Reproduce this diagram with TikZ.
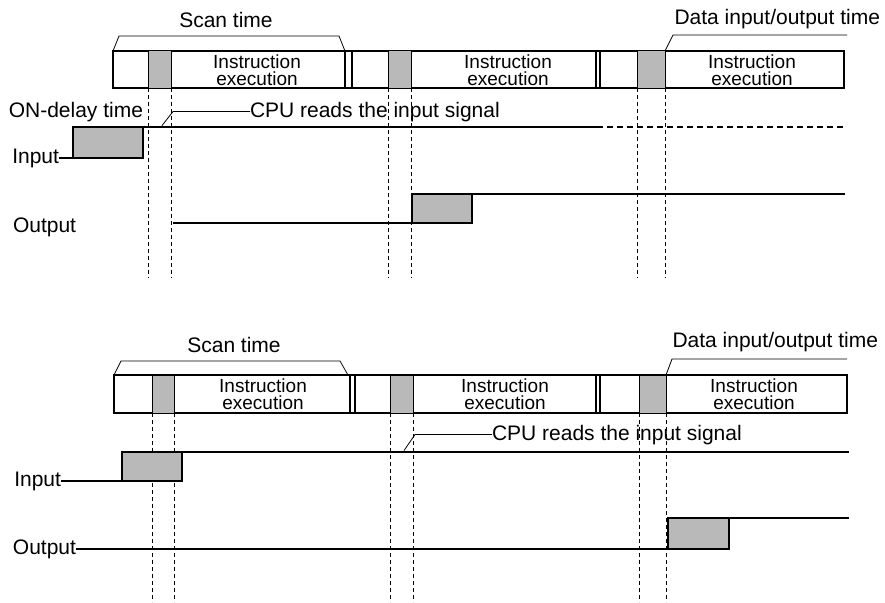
\documentclass[tikz,border=0pt]{standalone}
\usepackage{fontspec}
\setmainfont{Liberation Sans}
\usetikzlibrary{positioning}

\begin{document}
\begin{tikzpicture}[
    x=1pt, y=-1pt,
    lbl/.style={font=\fontsize{21}{21}\selectfont, inner sep=0pt, outer sep=0pt},
    instr/.style={font=\fontsize{19}{17.5}\selectfont, align=center, inner sep=0pt},
    slot/.style={fill=gray!55, draw=black, line width=1pt},
    bar/.style={draw=black, line width=1.1pt},
    sig/.style={line width=1.4pt},
    pulse/.style={fill=gray!55, draw=black, line width=1.8pt},
    guide/.style={line width=0.8pt, dash pattern=on 4pt off 3pt},
    lead/.style={line width=0.8pt},
]
\useasboundingbox (0,0) rectangle (885,602);

% ---------------- Upper chart ----------------
% Scan time bracket
\node[lbl, anchor=base] (scanA) at (226,28) {Scan time};
\draw[lead] (113,51) -- (119,36) -- (339,36) -- (345,51);

% Data input/output time
\node[lbl, anchor=base east] (dataA) at (880,25) {Data input/output time};
\draw[lead] (847,35) -- (673,35) -- (665,51);

% Scan bar
\draw[bar] (113,51) rectangle (844,88);
\draw[slot] (148,51) rectangle (171,88);
\draw[slot] (388,51) rectangle (411,88);
\draw[slot] (637,51) rectangle (665,88);
\draw[bar] (345,51) -- (345,88) (352,51) -- (352,88);
\draw[bar] (596,51) -- (596,88) (600,51) -- (600,88);
\node[instr] (exA1) at (257,70) {Instruction\\execution};
\node[instr] (exA2) at (508,70) {Instruction\\execution};
\node[instr] (exA3) at (752,70) {Instruction\\execution};

% Guide lines
\foreach \gx in {148,171,388,411,637,665}
  \draw[guide] (\gx,88) -- (\gx,278);

% Labels
\node[lbl, anchor=base east] (delayA) at (143,117) {ON-delay time};
\node[lbl, anchor=base west] (cpuA) at (250,117) {CPU reads the input signal};
\draw[lead] (cpuA.west) -- ++(-77,0) -- ++(-11,14);

% Input
\node[lbl, anchor=east] (inA) at (59,158) {Input};
\draw[pulse] (73,127) rectangle (143,158);
\draw[sig] (inA.east) -- (73,158) -- (73,127) -- (597,127);
\draw[sig, dash pattern=on 6pt off 4pt] (597,127) -- (845,127);

% Output
\node[lbl, anchor=base west] (outA) at (13,232) {Output};
\draw[pulse] (412,194) rectangle (472,223);
\draw[sig] (173,223) -- (412,223) (472,194) -- (845,194);

% ---------------- Lower chart ----------------
% Scan time bracket
\node[lbl, anchor=base] (scanB) at (234,352) {Scan time};
\draw[lead] (114,375) -- (121,361) -- (340,361) -- (348,375);

% Data input/output time
\node[lbl, anchor=base east] (dataB) at (878,347) {Data input/output time};
\draw[lead] (847,359) -- (672,359) -- (666,375);

% Scan bar
\draw[bar] (114,375) rectangle (847,413);
\draw[slot] (152,375) rectangle (174,413);
\draw[slot] (390,375) rectangle (413,413);
\draw[slot] (639,375) rectangle (666,413);
\draw[bar] (350,375) -- (350,413) (355,375) -- (355,413);
\draw[bar] (596,375) -- (596,413) (600,375) -- (600,413);
\node[instr] (exB1) at (263,394) {Instruction\\execution};
\node[instr] (exB2) at (505,394) {Instruction\\execution};
\node[instr] (exB3) at (754,394) {Instruction\\execution};

% Guide lines
\foreach \gx in {152,174,390,413,639,666}
  \draw[guide] (\gx,413) -- (\gx,602);

% Label
\node[lbl, anchor=base west] (cpuB) at (492,440) {CPU reads the input signal};
\draw[lead] (cpuB.west) -- ++(-77,0) -- ++(-11,16);

% Input
\node[lbl, anchor=east] (inB) at (61,481) {Input};
\draw[pulse] (122,452) rectangle (182,481);
\draw[sig] (inB.east) -- (122,481) -- (122,452) -- (849,452);

% Output
\node[lbl, anchor=east] (outB) at (76,549) {Output};
\draw[pulse] (668,518) rectangle (729,549);
\draw[sig] (outB.east) -- (668,549) (729,518) -- (849,518);
\end{tikzpicture}
\end{document}
